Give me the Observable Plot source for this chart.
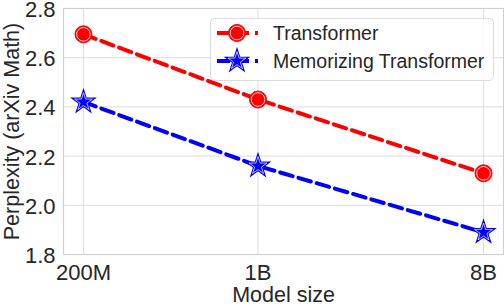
<!DOCTYPE html>
<html>
<head>
<meta charset="utf-8">
<script src="https://cdn.jsdelivr.net/npm/d3@7"></script>
<script src="https://cdn.jsdelivr.net/npm/@observablehq/plot@0.6"></script>
<style>
  html, body { margin: 0; padding: 0; background: #fff; }
  #chart { position: relative; width: 504px; height: 304px; }
  svg { font-family: "Liberation Sans", Arial, sans-serif; }
</style>
</head>
<body>
<div id="chart"></div>
<script>
// ---- data ----
const sizes = [2e8, 1e9, 8e9];
const sizeLabels = ["200M", "1B", "8B"];
const transformer = [2.695, 2.43, 2.13];
const memorizing = [2.42, 2.16, 1.89];
const yTicks = [1.8, 2.0, 2.2, 2.4, 2.6, 2.8];
const seriesNames = ["Transformer", "Memorizing Transformer"];

const rows = [];
sizes.forEach((s, i) => {
  rows.push({size: s, value: transformer[i], series: seriesNames[0]});
  rows.push({size: s, value: memorizing[i], series: seriesNames[1]});
});
const tRows = rows.filter(d => d.series === seriesNames[0]);
const mRows = rows.filter(d => d.series === seriesNames[1]);
const xTickRows = sizes.map((s, i) => ({size: s, label: sizeLabels[i]}));

const ink = "#262626";
const pad = Math.pow(10, 0.08);

const plot = Plot.plot({
  width: 504,
  height: 304,
  marginLeft: 63,
  marginRight: 1,
  marginTop: 8,
  marginBottom: 50,
  style: {fontFamily: "'Liberation Sans', Arial, sans-serif", color: ink, background: "#fff"},
  x: {type: "log", domain: [sizes[0] / pad, sizes[2] * pad], axis: null},
  y: {domain: [1.8, 2.8], axis: null},
  marks: [
    Plot.ruleY(yTicks, {y: d => d, stroke: "#dcdcdc", strokeWidth: 1}),
    Plot.ruleX(sizes, {x: d => d, stroke: "#dcdcdc", strokeWidth: 1}),
    Plot.frame({stroke: "#d0d0d0", strokeWidth: 1.2}),
    Plot.text(yTicks, {y: d => d, text: d3.format(".1f"), frameAnchor: "left", textAnchor: "end", dx: -8, dy: 1.5, fontSize: 22, fill: ink}),
    Plot.text(xTickRows, {x: "size", text: "label", frameAnchor: "bottom", textAnchor: "middle", lineAnchor: "middle", dy: 18, fontSize: 22, fill: ink}),
    Plot.text(["Model size"], {frameAnchor: "bottom", textAnchor: "middle", lineAnchor: "middle", dy: 40.5, fontSize: 21.5, fill: ink}),
    Plot.text(["Perplexity (arXiv Math)"], {frameAnchor: "left", textAnchor: "middle", lineAnchor: "middle", dx: -51, rotate: -90, fontSize: 21.5, fill: ink}),
    Plot.line(tRows, {x: "size", y: "value", stroke: "#ff0000", strokeWidth: 4, strokeDasharray: "13,6"}),
    Plot.line(mRows, {x: "size", y: "value", stroke: "#0000ff", strokeWidth: 4, strokeDasharray: "13,6"}),
    Plot.dot(tRows, {x: "size", y: "value", r: 8.5, fill: "#ff0000", stroke: "#ff0000", strokeWidth: 1}),
    Plot.dot(tRows, {x: "size", y: "value", r: 6.8, fill: "none", stroke: "#ffffff", strokeWidth: 0.8}),
    Plot.dot(mRows, {x: "size", y: "value", symbol: "star", r: 7, fill: "#0000ff", stroke: "#0000ff", strokeWidth: 1.5}),
    Plot.dot(mRows, {x: "size", y: "value", symbol: "star", r: 5.6, fill: "none", stroke: "#ffffff", strokeWidth: 0.7})
  ]
});

// ---- legend (drawn inside the SVG) ----
const svg = d3.select(plot);
const lg = svg.append("g").attr("text-anchor", "start");
lg.append("rect").attr("x", 210.5).attr("y", 18.5).attr("width", 283).attr("height", 62)
  .attr("rx", 4).attr("fill", "#ffffff").attr("fill-opacity", 0.85)
  .attr("stroke", "#dcdcdc").attr("stroke-width", 1);
const legendRows = [
  {name: seriesNames[0], color: "#ff0000", y: 33, symbol: "circle"},
  {name: seriesNames[1], color: "#0000ff", y: 61, symbol: "star"}
];
legendRows.forEach(r => {
  lg.append("line").attr("x1", 217).attr("x2", 258).attr("y1", r.y).attr("y2", r.y)
    .attr("stroke", r.color).attr("stroke-width", 4).attr("stroke-dasharray", "13,6");
  if (r.symbol === "circle") {
    lg.append("circle").attr("cx", 237).attr("cy", r.y).attr("r", 8.5).attr("fill", r.color).attr("stroke", r.color);
    lg.append("circle").attr("cx", 237).attr("cy", r.y).attr("r", 6.8).attr("fill", "none").attr("stroke", "#fff").attr("stroke-width", 0.8);
  } else {
    lg.append("path").attr("transform", `translate(237,${r.y})`)
      .attr("d", d3.symbol(d3.symbolStar, 49 * Math.PI)()).attr("fill", r.color).attr("stroke", r.color).attr("stroke-width", 1.5);
    lg.append("path").attr("transform", `translate(237,${r.y})`)
      .attr("d", d3.symbol(d3.symbolStar, 5.6 * 5.6 * Math.PI)()).attr("fill", "none").attr("stroke", "#fff").attr("stroke-width", 0.7);
  }
  lg.append("text").attr("x", 273).attr("y", r.y).attr("dy", "0.35em").attr("text-anchor", "start")
    .attr("font-size", 19.5).attr("fill", ink).text(r.name);
});

document.getElementById("chart").appendChild(plot);
</script>
</body>
</html>
